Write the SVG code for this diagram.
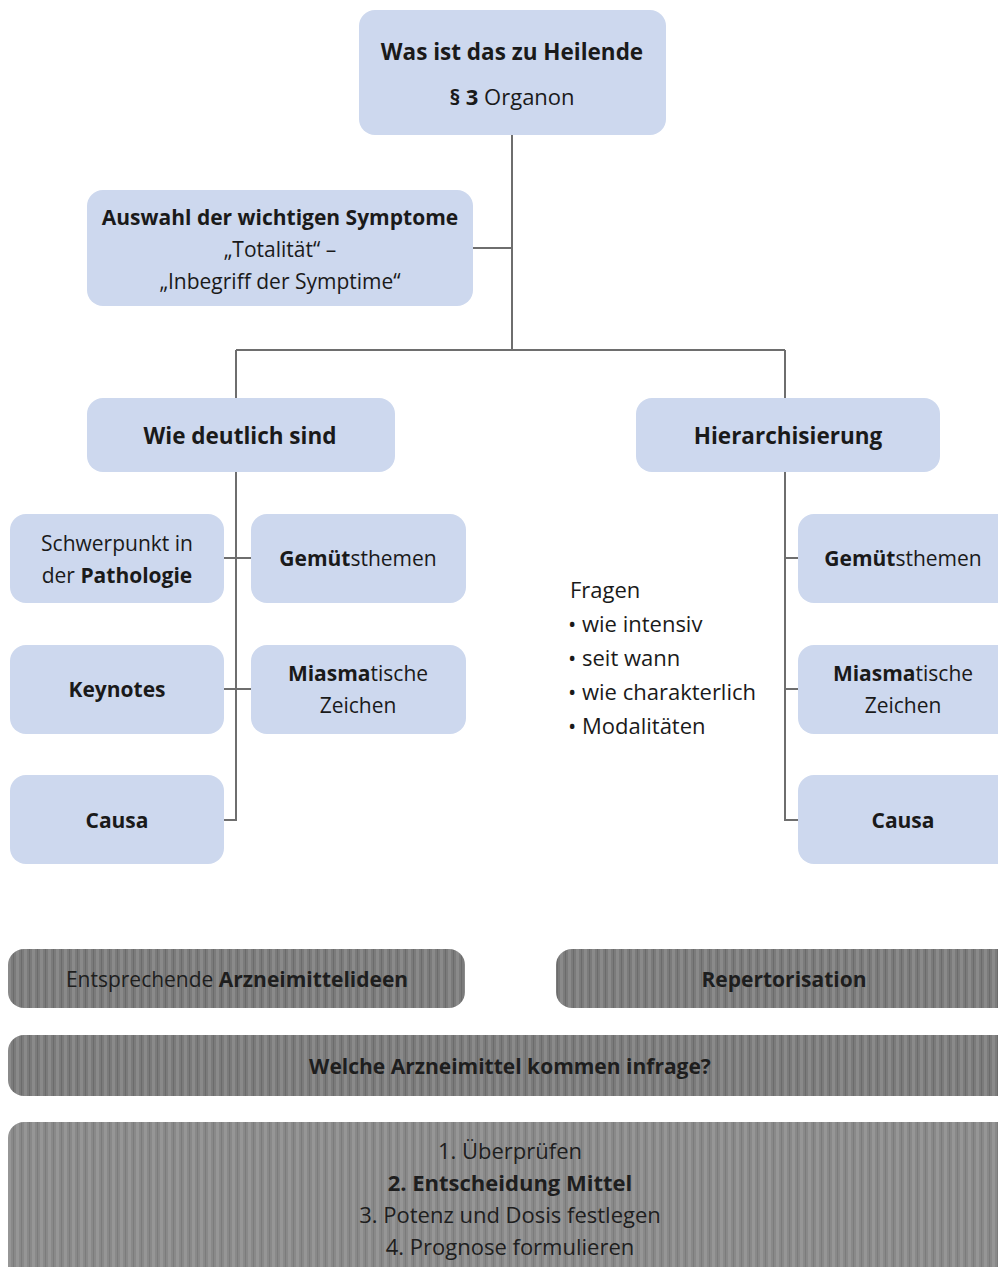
<svg xmlns="http://www.w3.org/2000/svg" width="998" height="1267" viewBox="0 0 998 1267">
<defs>
<style>
.bg{fill:#ffffff}
.blue{fill:#cdd8ee}
.gray{fill:url(#stripes)}
.gray2{fill:url(#stripes2)}
.con{stroke:#6e6e6e;stroke-width:2;fill:none}
text{font-family:"Open Sans","Noto Sans",sans-serif;fill:#1a1a1a;text-anchor:middle}
.b{font-weight:bold}
.h{font-size:22.5px;font-weight:bold}
.t{font-size:21px}
.f{font-size:22px;text-anchor:start}
.s{font-size:22px}
.g{fill:#1e1e1e}
</style>
<pattern id="stripes" width="8" height="10" patternUnits="userSpaceOnUse">
<rect width="8" height="10" fill="#7b7b7b"/>
<rect x="0" width="3" height="10" fill="#8a8a8a"/>
<rect x="5" width="1" height="10" fill="#6c6c6c"/>
</pattern>
<pattern id="stripes2" width="8" height="10" patternUnits="userSpaceOnUse">
<rect width="8" height="10" fill="#898989"/>
<rect x="0" width="3" height="10" fill="#969696"/>
<rect x="5" width="1" height="10" fill="#7c7c7c"/>
</pattern>
</defs>
<rect class="bg" width="998" height="1267"/>

<g id="connectors">
<path class="con" d="M512 135 V350"/>
<path class="con" d="M473 248 H512"/>
<path class="con" d="M236 350 H785"/>
<path class="con" d="M236 350 V398"/>
<path class="con" d="M785 350 V398"/>
<path class="con" d="M236 472 V820 H224"/>
<path class="con" d="M224 558 H251"/>
<path class="con" d="M224 689 H251"/>
<path class="con" d="M785 472 V820 H798"/>
<path class="con" d="M785 558 H798"/>
<path class="con" d="M785 689 H798"/>
</g>

<g id="n-top">
<rect class="blue" x="359" y="10" width="307" height="125" rx="16"/>
<text class="h" x="512" y="60">Was ist das zu Heilende</text>
<text class="s" x="512" y="105"><tspan class="b">§ 3</tspan> Organon</text>
</g>

<g id="n-auswahl">
<rect class="blue" x="87" y="190" width="386" height="116" rx="16"/>
<text class="t b" x="280" y="225">Auswahl der wichtigen Symptome</text>
<text class="t" x="280" y="257">„Totalität“ –</text>
<text class="t" x="280" y="289">„Inbegriff der Symptime“</text>
</g>

<g id="n-wie">
<rect class="blue" x="87" y="398" width="308" height="74" rx="16"/>
<text class="h" x="240" y="444">Wie deutlich sind</text>
</g>

<g id="n-hier">
<rect class="blue" x="636" y="398" width="304" height="74" rx="16"/>
<text class="h" x="788" y="444">Hierarchisierung</text>
</g>

<g id="n-schwerpunkt">
<rect class="blue" x="10" y="514" width="214" height="89" rx="16"/>
<text class="t" x="117" y="551">Schwerpunkt in</text>
<text class="t" x="117" y="583">der <tspan class="b">Pathologie</tspan></text>
</g>

<g id="n-gemuet-l">
<rect class="blue" x="251" y="514" width="215" height="89" rx="16"/>
<text class="t" x="358" y="566"><tspan class="b">Gemüt</tspan>sthemen</text>
</g>

<g id="n-keynotes">
<rect class="blue" x="10" y="645" width="214" height="89" rx="16"/>
<text class="t b" x="117" y="697">Keynotes</text>
</g>

<g id="n-miasma-l">
<rect class="blue" x="251" y="645" width="215" height="89" rx="16"/>
<text class="t" x="358" y="681"><tspan class="b">Miasma</tspan>tische</text>
<text class="t" x="358" y="713">Zeichen</text>
</g>

<g id="n-causa-l">
<rect class="blue" x="10" y="775" width="214" height="89" rx="16"/>
<text class="t b" x="117" y="828">Causa</text>
</g>

<g id="n-fragen">
<text class="f" x="570" y="598">Fragen</text>
<text class="f" x="568" y="632">• wie intensiv</text>
<text class="f" x="568" y="666">• seit wann</text>
<text class="f" x="568" y="700">• wie charakterlich</text>
<text class="f" x="568" y="734">• Modalitäten</text>
</g>

<g id="n-gemuet-r">
<rect class="blue" x="798" y="514" width="216" height="89" rx="16"/>
<text class="t" x="903" y="566"><tspan class="b">Gemüt</tspan>sthemen</text>
</g>

<g id="n-miasma-r">
<rect class="blue" x="798" y="645" width="216" height="89" rx="16"/>
<text class="t" x="903" y="681"><tspan class="b">Miasma</tspan>tische</text>
<text class="t" x="903" y="713">Zeichen</text>
</g>

<g id="n-causa-r">
<rect class="blue" x="798" y="775" width="216" height="89" rx="16"/>
<text class="t b" x="903" y="828">Causa</text>
</g>

<g id="n-arznei">
<rect class="gray" x="8" y="949" width="457" height="59" rx="16"/>
<text class="t g" x="237" y="987">Entsprechende <tspan class="b">Arzneimittelideen</tspan></text>
</g>

<g id="n-repert">
<rect class="gray" x="556" y="949" width="458" height="59" rx="16"/>
<text class="t g b" x="784" y="987">Repertorisation</text>
</g>

<g id="n-welche">
<rect class="gray" x="8" y="1035" width="1006" height="61" rx="16"/>
<text class="t g b" x="510" y="1074">Welche Arzneimittel kommen infrage?</text>
</g>

<g id="n-steps">
<rect class="gray2" x="8" y="1122" width="1006" height="160" rx="16"/>
<text class="s g" x="510" y="1159">1. Überprüfen</text>
<text class="s g b" x="510" y="1191">2. Entscheidung Mittel</text>
<text class="s g" x="510" y="1223">3. Potenz und Dosis festlegen</text>
<text class="s g" x="510" y="1255">4. Prognose formulieren</text>
</g>
</svg>
